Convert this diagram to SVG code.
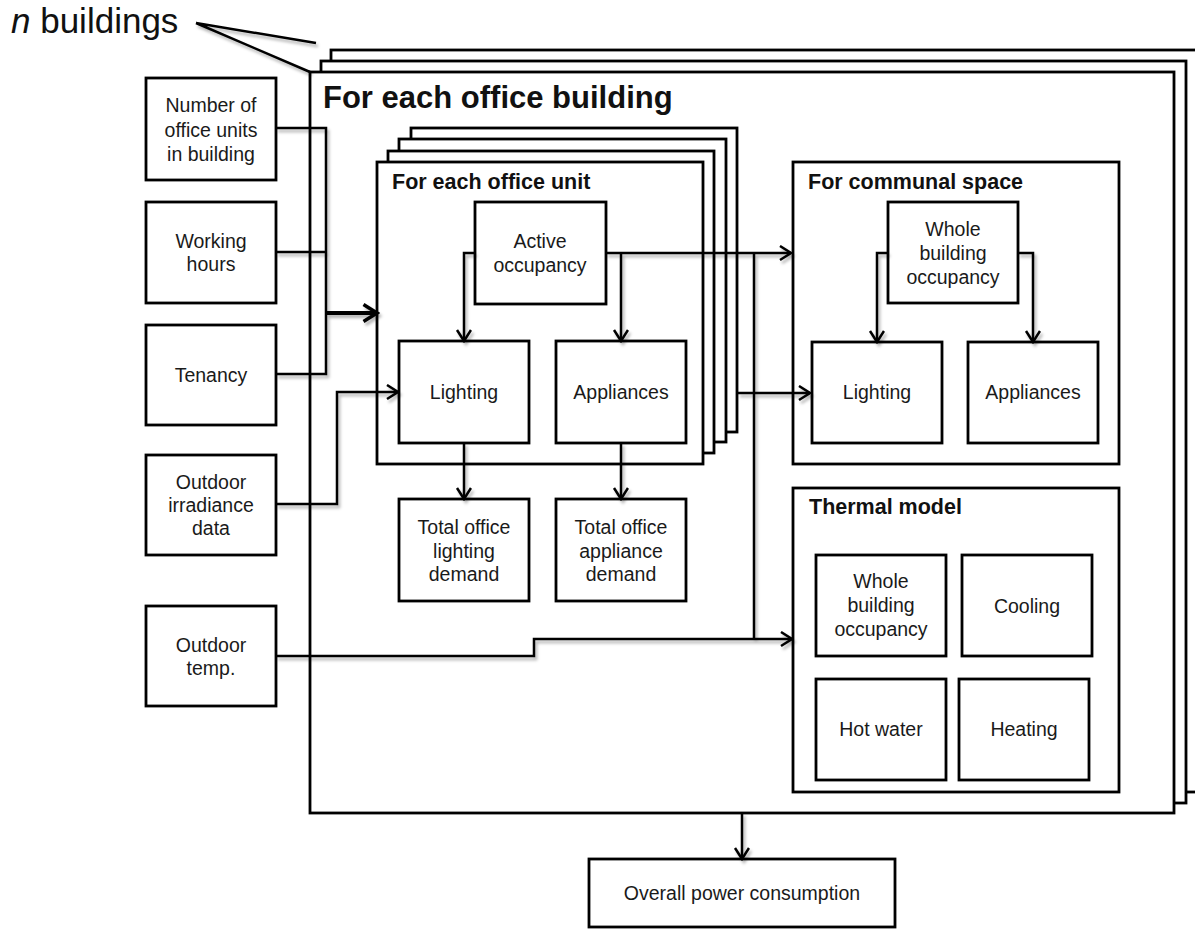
<svg xmlns="http://www.w3.org/2000/svg" width="1195" height="929" viewBox="0 0 1195 929">
<style>
.frame{fill:#fff;stroke:#000;stroke-width:2.8}
.box{fill:#fff;stroke:#000;stroke-width:2.8}
.t{font-family:"Liberation Sans",Arial,sans-serif;font-size:19.5px;fill:#1a1a1a;text-anchor:middle}
.h{font-family:"Liberation Sans",Arial,sans-serif;font-weight:bold;font-size:21.5px;fill:#111}
.big{font-size:31px}
.c{fill:none;stroke:#000;stroke-width:2.5;stroke-linejoin:miter}
.ca{fill:none;stroke:#000;stroke-width:2.5;marker-end:url(#ah)}
</style>
<defs>
<marker id="ah" markerUnits="userSpaceOnUse" markerWidth="14" markerHeight="18" viewBox="0 0 14 18" refX="12" refY="8" orient="auto">
<path d="M1,1 L12,8 L1,15" fill="none" stroke="#000" stroke-width="2.5"/>
</marker>
<marker id="ahb" markerUnits="userSpaceOnUse" markerWidth="18" markerHeight="22" viewBox="0 0 18 22" refX="15" refY="10" orient="auto">
<path d="M1.5,1.5 L15,10 L1.5,18.5" fill="none" stroke="#000" stroke-width="3.5"/>
</marker>
<filter id="sh" x="-10%" y="-10%" width="130%" height="130%">
<feDropShadow dx="2" dy="3" stdDeviation="1.5" flood-color="#000" flood-opacity="0.3"/>
</filter>
</defs>
<rect width="1195" height="929" fill="#fff"/>

<text x="11" y="33" font-family="'Liberation Sans',Arial,sans-serif" font-size="35" fill="#111"><tspan font-style="italic">n</tspan> buildings</text>

<g id="building-stack">
<rect class="frame" x="331" y="50" width="870" height="742"/>
<rect class="frame" x="321" y="61" width="865" height="742"/>
<rect class="frame" x="310" y="72" width="864" height="741"/>
<text class="h big" x="323" y="108">For each office building</text>
</g>

<g id="input-units">
<rect class="box" x="146" y="78" width="130" height="102"/>
<text class="t" x="211" y="112">Number  of</text>
<text class="t" x="211" y="137">office units</text>
<text class="t" x="211" y="161">in building</text>
</g>
<g id="input-hours">
<rect class="box" x="146" y="202" width="130" height="101"/>
<text class="t" x="211" y="248">Working</text>
<text class="t" x="211" y="271">hours</text>
</g>
<g id="input-tenancy">
<rect class="box" x="146" y="325" width="130" height="100"/>
<text class="t" x="211" y="382">Tenancy</text>
</g>
<g id="input-irradiance">
<rect class="box" x="146" y="455" width="130" height="100"/>
<text class="t" x="211" y="489">Outdoor</text>
<text class="t" x="211" y="512">irradiance</text>
<text class="t" x="211" y="535">data</text>
</g>
<g id="input-temp">
<rect class="box" x="146" y="606" width="130" height="100"/>
<text class="t" x="211" y="652">Outdoor</text>
<text class="t" x="211" y="675">temp.</text>
</g>

<g id="office-unit-stack">
<rect class="frame" x="411" y="128" width="326" height="304"/>
<rect class="frame" x="399" y="139" width="327" height="303"/>
<rect class="frame" x="388" y="151" width="326" height="302"/>
<rect class="frame" x="377" y="162" width="326" height="302"/>
<text class="h" x="392" y="189">For each office unit</text>
</g>
<g id="active-occupancy">
<rect class="box" x="475" y="202" width="131" height="102"/>
<text class="t" x="540" y="248">Active</text>
<text class="t" x="540" y="272">occupancy</text>
</g>
<g id="unit-lighting">
<rect class="box" x="399" y="341" width="130" height="102"/>
<text class="t" x="464" y="399">Lighting</text>
</g>
<g id="unit-appliances">
<rect class="box" x="556" y="341" width="130" height="102"/>
<text class="t" x="621" y="399">Appliances</text>
</g>
<g id="total-lighting">
<rect class="box" x="399" y="499" width="130" height="102"/>
<text class="t" x="464" y="534">Total office</text>
<text class="t" x="464" y="558">lighting</text>
<text class="t" x="464" y="581">demand</text>
</g>
<g id="total-appliance">
<rect class="box" x="556" y="499" width="130" height="102"/>
<text class="t" x="621" y="534">Total office</text>
<text class="t" x="621" y="558">appliance</text>
<text class="t" x="621" y="581">demand</text>
</g>

<g id="communal-space">
<rect class="frame" x="793" y="162" width="326" height="302"/>
<text class="h" x="808" y="189">For communal space</text>
</g>
<g id="communal-occupancy">
<rect class="box" x="888" y="202" width="130" height="101"/>
<text class="t" x="953" y="236">Whole</text>
<text class="t" x="953" y="260">building</text>
<text class="t" x="953" y="284">occupancy</text>
</g>
<g id="communal-lighting">
<rect class="box" x="812" y="342" width="130" height="101"/>
<text class="t" x="877" y="399">Lighting</text>
</g>
<g id="communal-appliances">
<rect class="box" x="968" y="342" width="130" height="101"/>
<text class="t" x="1033" y="399">Appliances</text>
</g>

<g id="thermal-model">
<rect class="frame" x="793" y="488" width="326" height="304"/>
<text class="h" x="809" y="514">Thermal model</text>
</g>
<g id="thermal-occupancy">
<rect class="box" x="816" y="555" width="130" height="101"/>
<text class="t" x="881" y="588">Whole</text>
<text class="t" x="881" y="612">building</text>
<text class="t" x="881" y="636">occupancy</text>
</g>
<g id="cooling">
<rect class="box" x="962" y="555" width="130" height="101"/>
<text class="t" x="1027" y="613">Cooling</text>
</g>
<g id="hot-water">
<rect class="box" x="816" y="679" width="130" height="101"/>
<text class="t" x="881" y="736">Hot water</text>
</g>
<g id="heating">
<rect class="box" x="959" y="679" width="130" height="101"/>
<text class="t" x="1024" y="736">Heating</text>
</g>

<g id="overall">
<rect class="box" x="589" y="859" width="306" height="68"/>
<text class="t" x="742" y="900">Overall power consumption</text>
</g>

<g id="connectors" filter="url(#sh)">
<path class="c" d="M196,23 L316,43 M196,23 L310,72"/>
<path class="c" d="M276,128 H326 V374 H276 M276,252 H326"/>
<path d="M326,313 H377" fill="none" stroke="#000" stroke-width="4" marker-end="url(#ahb)"/>
<path class="ca" d="M276,504 H337 V392 H398"/>
<path class="ca" d="M475,253 H464 V341"/>
<path class="ca" d="M606,253 H791"/>
<path class="ca" d="M621,253 V341"/>
<path class="ca" d="M464,443 V499"/>
<path class="ca" d="M621,443 V499"/>
<path class="ca" d="M738,393 H810"/>
<path class="c" d="M754,253 V639"/>
<path class="ca" d="M276,656 H534 V639 H792"/>
<path class="ca" d="M888,253 H877 V342"/>
<path class="ca" d="M1018,253 H1033 V342"/>
<path class="ca" d="M742,813 V859"/>
</g>
</svg>
